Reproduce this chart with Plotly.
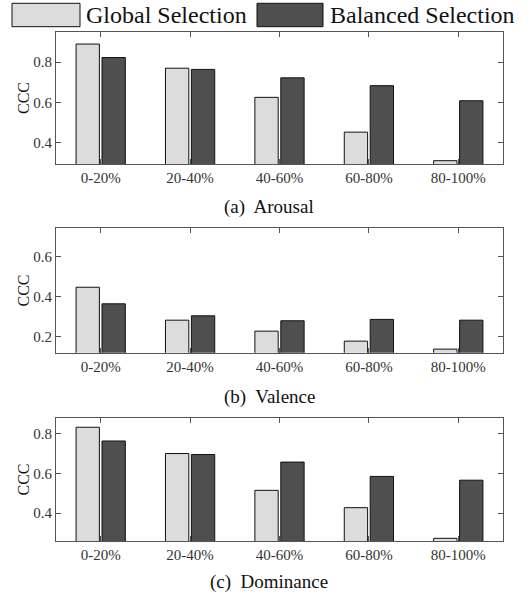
import plotly.graph_objects as go

categories = ["0-20%", "20-40%", "40-60%", "60-80%", "80-100%"]
series_names = ["Global Selection", "Balanced Selection"]

arousal_global = [0.890, 0.770, 0.625, 0.452, 0.310]
arousal_balanced = [0.823, 0.764, 0.722, 0.683, 0.608]
valence_global = [0.448, 0.283, 0.228, 0.178, 0.138]
valence_balanced = [0.365, 0.305, 0.280, 0.287, 0.283]
dominance_global = [0.832, 0.700, 0.515, 0.428, 0.274]
dominance_balanced = [0.763, 0.695, 0.657, 0.585, 0.566]

captions = ["(a)  Arousal", "(b)  Valence", "(c)  Dominance"]
y_title = "CCC"

panels = [
    (arousal_global, arousal_balanced, [0.2935, 0.95], [0.4, 0.6, 0.8]),
    (valence_global, valence_balanced, [0.12, 0.7435], [0.2, 0.4, 0.6]),
    (dominance_global, dominance_balanced, [0.259, 0.88], [0.4, 0.6, 0.8]),
]

W, H = 531, 594
light = "#dcdcdc"
dark = "#4f4f4f"
font_family = "Times New Roman, Liberation Serif, serif"

def py(px):
    return 1 - px / H

def pxx(px):
    return px / W

domains_y = [(py(164), py(32)), (py(352.7), py(228.3)), (py(541.3), py(417.7))]
caption_y = [207, 397, 582]
x_domain = [pxx(56), pxx(503)]

fig = go.Figure()
layout = dict(
    width=W, height=H,
    margin=dict(l=0, r=0, t=0, b=0),
    paper_bgcolor="white", plot_bgcolor="white",
    barmode="group", bargap=0.42, bargroupgap=0.1,
    showlegend=False,
    font=dict(family=font_family, color="#333"),
)

annotations = []
for i, (g, b, yr, tv) in enumerate(panels):
    xa = "x" if i == 0 else f"x{i+1}"
    ya = "y" if i == 0 else f"y{i+1}"
    fig.add_trace(go.Bar(x=categories, y=g, name=series_names[0], xaxis=xa, yaxis=ya,
                         marker=dict(color=light, line=dict(color="#111", width=1))))
    fig.add_trace(go.Bar(x=categories, y=b, name=series_names[1], xaxis=xa, yaxis=ya,
                         marker=dict(color=dark, line=dict(color="#111", width=1))))
    xkey = "xaxis" if i == 0 else f"xaxis{i+1}"
    ykey = "yaxis" if i == 0 else f"yaxis{i+1}"
    layout[xkey] = dict(
        domain=x_domain, anchor=ya, type="category",
        showline=True, mirror="ticks", linecolor="#555", linewidth=1,
        ticks="inside", ticklen=5, tickcolor="#555", showgrid=False,
        tickfont=dict(size=15, color="#333", family=font_family),
        range=[-0.5, 4.5],
    )
    layout[ykey] = dict(
        domain=list(domains_y[i]), anchor=xa, range=yr,
        tickvals=tv, tickformat=".1f",
        showline=True, mirror="ticks", linecolor="#555", linewidth=1,
        ticks="inside", ticklen=5, tickcolor="#555", showgrid=False, zeroline=False,
        tickfont=dict(size=15, color="#333", family=font_family),
    )
    annotations.append(dict(
        text=captions[i], x=0.507, y=py(caption_y[i]), xref="paper", yref="paper",
        showarrow=False, xanchor="center", yanchor="middle",
        font=dict(size=19, color="#111", family=font_family),
    ))
    annotations.append(dict(
        text=y_title, x=pxx(23), y=(domains_y[i][0] + domains_y[i][1]) / 2,
        xref="paper", yref="paper", showarrow=False, textangle=-90,
        xanchor="center", yanchor="middle",
        font=dict(size=16, color="#111", family=font_family),
    ))

# legend drawn manually (wide swatches)
shapes = [
    dict(type="rect", xref="paper", yref="paper", x0=pxx(12), x1=pxx(80), y0=py(26.7), y1=py(3.3),
         fillcolor=light, line=dict(color="#111", width=1)),
    dict(type="rect", xref="paper", yref="paper", x0=pxx(257), x1=pxx(323), y0=py(26.7), y1=py(3.3),
         fillcolor=dark, line=dict(color="#111", width=1)),
]
annotations.append(dict(text=series_names[0], x=pxx(84), y=py(15), xref="paper", yref="paper",
                        showarrow=False, xanchor="left", yanchor="middle",
                        font=dict(size=24, color="#111", family=font_family)))
annotations.append(dict(text=series_names[1], x=pxx(328), y=py(15), xref="paper", yref="paper",
                        showarrow=False, xanchor="left", yanchor="middle",
                        font=dict(size=24, color="#111", family=font_family)))

layout["annotations"] = annotations
layout["shapes"] = shapes
fig.update_layout(**layout)
fig.write_html("out.html", config={"displayModeBar": False},
               post_script="document.body.style.margin='0';")
